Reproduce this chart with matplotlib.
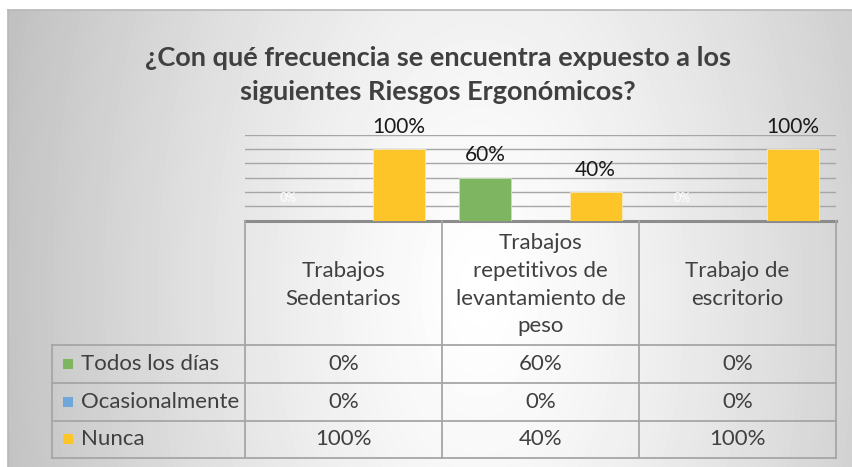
import numpy as np
import matplotlib.pyplot as plt
from matplotlib.patches import Rectangle

plt.rcParams['font.family'] = ['Lato', 'DejaVu Sans']

# data
categories = ["Trabajos\nSedentarios",
              "Trabajos\nrepetitivos de\nlevantamiento de\npeso",
              "Trabajo de\nescritorio"]
series_names = ["Todos los días", "Ocasionalmente", "Nunca"]
todos = [0, 60, 0]
ocasional = [0, 0, 0]
nunca = [100, 40, 100]
series_vals = [todos, ocasional, nunca]
series_colors = ["#7db560", "#6fa7db", "#fdc527"]
show_labels = [True, False, True]
yticks = [0, 20, 40, 60, 80, 100, 120]
title = "¿Con qué frecuencia se encuentra expuesto a los\nsiguientes Riesgos Ergonómicos?"

W, H = 852, 467
fig = plt.figure(figsize=(W / 100, H / 100), dpi=100)
fig.patch.set_facecolor("white")

# gradient background of the chart area (white band in the middle, grey sides)
bx0, by0 = 8, 10
bg = fig.add_axes([bx0 / W, 0, (W - bx0) / W, (H - by0) / H])
xx, yy = np.meshgrid(np.arange(bx0, W), np.arange(by0, H))
d = np.sqrt(((xx - 480) / 470.0) ** 2 + ((yy - 290) / 850.0) ** 2)
shade = 1.0 - 0.23 * np.clip(d, 0, 1.1) ** 1.3
bg.imshow(shade, cmap="gray", vmin=0, vmax=1, aspect="auto",
          extent=[bx0, W, H, by0], interpolation="bilinear")
bg.set_xlim(bx0, W)
bg.set_ylim(H, by0)
bg.axis("off")

# overlay in pixel coords for title, table and borders
ov = fig.add_axes([0, 0, 1, 1], facecolor="none")
ov.set_xlim(0, W)
ov.set_ylim(H, 0)
ov.axis("off")
ov.plot([bx0, W], [by0, by0], color="#b8b8b8", lw=1.2)
ov.plot([bx0, bx0], [by0, H], color="#b8b8b8", lw=1.2)

ov.text(438, 75, title, ha="center", va="center", fontsize=19.5,
        fontweight="bold", color="#404040", linespacing=1.55)

# bar plot area
px0, px1 = 245, 836
y0pix, y120pix = 220.5, 134.6
ax = fig.add_axes([px0 / W, (H - y0pix) / H, (px1 - px0) / W, (y0pix - y120pix) / H],
                  facecolor="none")
ax.set_xlim(-0.5, len(categories) - 0.5)
ax.set_ylim(0, 1.2)
for t in yticks[1:]:
    ax.axhline(t / 100, color="#a6a6a6", lw=1.0, zorder=0)
for s in ax.spines.values():
    s.set_visible(False)
ax.set_xticks([])
ax.set_yticks([])

x = np.arange(len(categories))
bw = 0.264
offs = [-0.28, 0.0, 0.28]
for i, vals in enumerate(series_vals):
    v = np.array(vals) / 100
    ax.bar(x + offs[i], v, width=bw, color=series_colors[i],
           edgecolor="#f5e9c0" if i == 2 else "#c9e0bb", linewidth=0.6, zorder=2)
    if show_labels[i]:
        for xi, vi in zip(x + offs[i], vals):
            if vi == 0:
                ax.annotate("%d%%" % vi, (xi, 0), xytext=(0, 16),
                            textcoords="offset points", ha="center", va="center",
                            fontsize=9, color="white", clip_on=False)
            else:
                ax.annotate("%d%%" % vi, (xi, vi / 100), xytext=(0, 16),
                            textcoords="offset points", ha="center", va="center",
                            fontsize=15, color="#1a1a1a", clip_on=False)

# data table
tl = 52
col_edges = [px0 + k * (px1 - px0) / len(categories) for k in range(len(categories) + 1)]
row_edges = [220.5, 345, 383, 420.5, 458]
lc = "#a6a6a6"
ov.plot([px0, px1], [220.5, 220.5], color="#8c8c8c", lw=2.2)
for ye in row_edges[1:]:
    ov.plot([tl, px1], [ye, ye], color=lc, lw=1.3)
for xe in col_edges:
    ov.plot([xe, xe], [220.5, 458], color=lc, lw=1.3)
ov.plot([tl, tl], [345, 458], color=lc, lw=1.3)

for k, cat in enumerate(categories):
    cx = (col_edges[k] + col_edges[k + 1]) / 2
    ov.text(cx, (row_edges[0] + row_edges[1]) / 2 + 2, cat, ha="center", va="center",
            fontsize=16, color="#404040", linespacing=1.48)

for r, name in enumerate(series_names):
    cy = (row_edges[r + 1] + row_edges[r + 2]) / 2
    ov.add_patch(Rectangle((63, cy - 5), 10, 10, facecolor=series_colors[r],
                           edgecolor="none"))
    ov.text(81, cy, name, ha="left", va="center", fontsize=16, color="#404040")
    for k in range(len(categories)):
        cx = (col_edges[k] + col_edges[k + 1]) / 2
        ov.text(cx, cy, "%d%%" % series_vals[r][k], ha="center", va="center",
                fontsize=16, color="#404040")

fig.savefig("out.png", dpi=100)
